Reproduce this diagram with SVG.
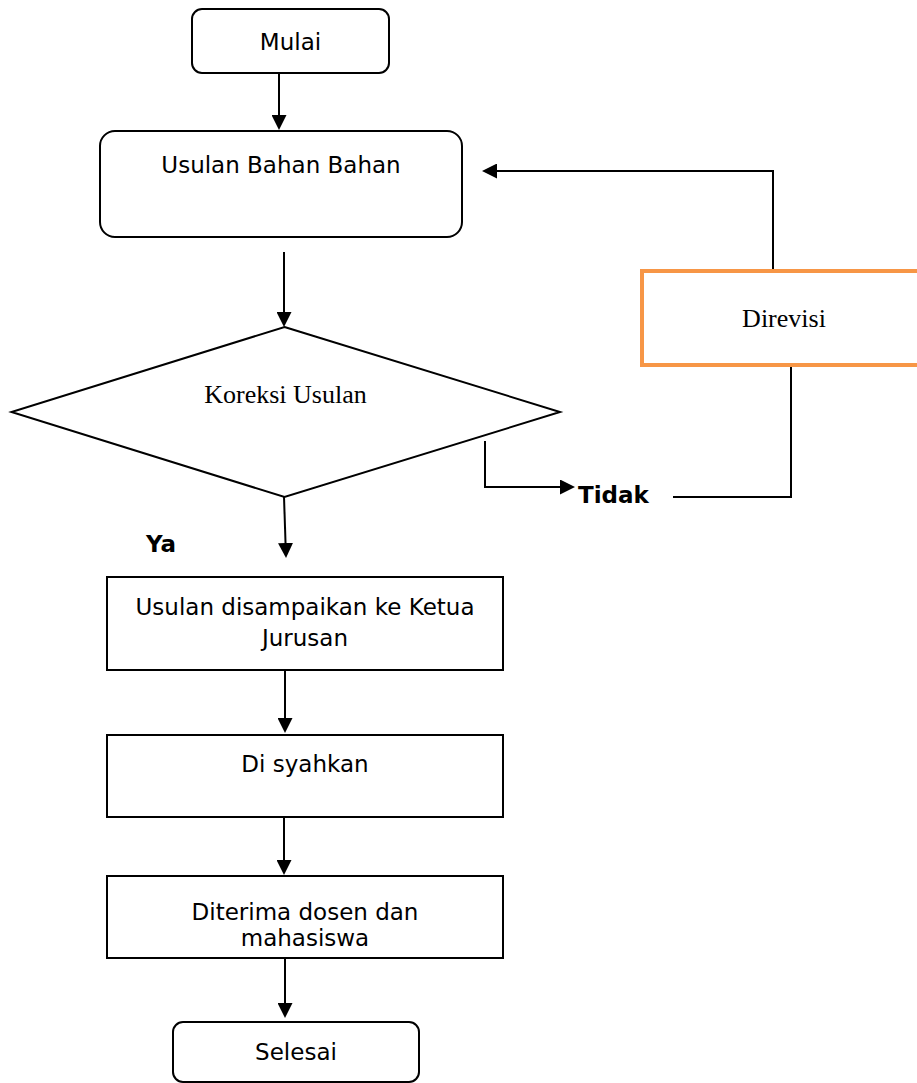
<svg xmlns="http://www.w3.org/2000/svg" width="917" height="1083" viewBox="0 0 917 1083">
  <style>
    .box { fill: #ffffff; stroke: #000000; stroke-width: 2; }
    .orange { fill: #ffffff; stroke: #F79646; stroke-width: 4; }
    .lbl { font-family: "DejaVu Sans", Verdana, sans-serif; font-size: 23px; fill: #000; text-anchor: middle; }
    .bold { font-family: "DejaVu Sans", Verdana, sans-serif; font-size: 23px; font-weight: bold; fill: #000; }
    .serif { font-family: "Liberation Serif", "Times New Roman", serif; font-size: 26px; fill: #000; text-anchor: middle; }
    .conn { fill: none; stroke: #000; stroke-width: 2; }
  </style>
  <defs>
    <marker id="arr" markerUnits="userSpaceOnUse" markerWidth="15" markerHeight="15" refX="5" refY="7.5" orient="auto">
      <path d="M0,0 L15,7.5 L0,15 Z" fill="#000"/>
    </marker>
  </defs>
  <rect width="917" height="1083" fill="#ffffff"/>

  <g id="connectors">
    <path class="conn" d="M279,73 L279,120" marker-end="url(#arr)"/>
    <path class="conn" d="M284,252 L284,317" marker-end="url(#arr)"/>
    <path class="conn" d="M284,497 L285.7,548" marker-end="url(#arr)"/>
    <path class="conn" d="M485,441 L485,487 L565,487" marker-end="url(#arr)"/>
    <path class="conn" d="M673,497 L791,497 L791,367"/>
    <path class="conn" d="M773,270 L773,171 L492,171" marker-end="url(#arr)"/>
    <path class="conn" d="M285,670 L285,723" marker-end="url(#arr)"/>
    <path class="conn" d="M284,817 L284,865" marker-end="url(#arr)"/>
    <path class="conn" d="M285,958 L285,1008" marker-end="url(#arr)"/>
  </g>

  <g id="mulai">
    <rect class="box" x="192" y="9" width="197" height="64" rx="10"/>
    <text class="lbl" x="290.5" y="50">Mulai</text>
  </g>

  <g id="usulan-bahan">
    <rect class="box" x="100" y="131" width="362" height="106" rx="15"/>
    <text class="lbl" x="281" y="173">Usulan Bahan Bahan</text>
  </g>

  <g id="koreksi">
    <polygon class="box" points="284.5,327 560,412 284.5,497 11.5,412"/>
    <text class="serif" x="285.5" y="403">Koreksi Usulan</text>
  </g>

  <g id="direvisi">
    <rect class="orange" x="642" y="271" width="290" height="94"/>
    <text class="serif" x="784" y="327">Direvisi</text>
  </g>

  <g id="label-tidak">
    <text class="bold" x="578" y="503">Tidak</text>
  </g>

  <g id="label-ya">
    <text class="bold" x="146" y="552">Ya</text>
  </g>

  <g id="disampaikan">
    <rect class="box" x="107" y="577" width="396" height="93"/>
    <text class="lbl" x="305" y="615">Usulan disampaikan ke Ketua</text>
    <text class="lbl" x="305" y="646">Jurusan</text>
  </g>

  <g id="disyahkan">
    <rect class="box" x="107" y="735" width="396" height="82"/>
    <text class="lbl" x="305" y="772">Di syahkan</text>
  </g>

  <g id="diterima">
    <rect class="box" x="107" y="876" width="396" height="82"/>
    <text class="lbl" x="305" y="920">Diterima dosen dan</text>
    <text class="lbl" x="305" y="946">mahasiswa</text>
  </g>

  <g id="selesai">
    <rect class="box" x="173" y="1022" width="246" height="60" rx="10"/>
    <text class="lbl" x="296" y="1060">Selesai</text>
  </g>
</svg>
